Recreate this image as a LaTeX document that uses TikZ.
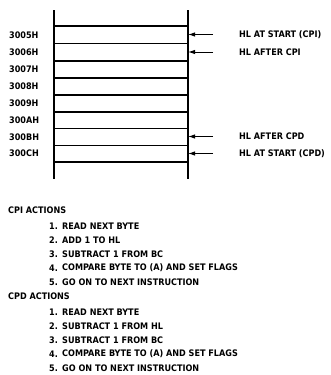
\documentclass[tikz,border=0pt]{standalone}
\usepackage{fontspec}
\setmainfont{DejaVu Sans Condensed}
\usetikzlibrary{arrows.meta}
\begin{document}
\begin{tikzpicture}[x=1pt,y=-1pt,
  txt/.style={font=\fontsize{9}{10}\selectfont\bfseries, inner sep=0pt, anchor=west},
  mem/.style={line width=1.1pt},
  ptr/.style={line width=1pt, -{Latex[length=7pt,width=4.5pt]}}]
\useasboundingbox (0,0) rectangle (330,375);
% memory column
\coordinate (lt) at (54,10); \coordinate (lb) at (54,179);
\coordinate (rt) at (188,10); \coordinate (rb) at (188,179);
\draw[mem] (lt) -- (lb);
\draw[mem] (rt) -- (rb);
\foreach \y in {26,43.5,61,78,95,112,128.5,145.5,162}
  \draw[mem] (54,\y) -- (188,\y);
% addresses
\foreach \a/\y in {3005H/35,3006H/52,3007H/69.5,3008H/86.5,3009H/103.5,300AH/120,300BH/137,300CH/153.5}
  \node[txt] (a\a) at (9,\y) {\a};
% pointers
\coordinate (p1) at (188,34.5); \coordinate (q1) at (213,34.5);
\coordinate (p2) at (188,52); \coordinate (q2) at (213,52);
\coordinate (p3) at (188,136.5); \coordinate (q3) at (213,136.5);
\coordinate (p4) at (188,153.5); \coordinate (q4) at (213,153.5);
\node[txt] (l1) at (239,34.5) {HL AT START (CPI)};
\node[txt] (l2) at (239,52) {HL AFTER CPI};
\node[txt] (l3) at (239,136.5) {HL AFTER CPD};
\node[txt] (l4) at (239,153.5) {HL AT START (CPD)};
\draw[ptr] (q1) -- (p1);
\draw[ptr] (q2) -- (p2);
\draw[ptr] (q3) -- (p3);
\draw[ptr] (q4) -- (p4);
% action lists
\node[txt] (cpi) at (8,210) {CPI ACTIONS};
\foreach \n/\t/\y in {1/READ NEXT BYTE/226,2/ADD 1 TO HL/240,3/SUBTRACT 1 FROM BC/254,4/COMPARE BYTE TO (A) AND SET FLAGS/268,5/GO ON TO NEXT INSTRUCTION/282}{
  \node[txt] (ni\n) at (49,\y) {\n.};
  \node[txt] (ti\n) at (62,\y) {\t};
}
\node[txt] (cpd) at (8,296) {CPD ACTIONS};
\foreach \n/\t/\y in {1/READ NEXT BYTE/312,2/SUBTRACT 1 FROM HL/326,3/SUBTRACT 1 FROM BC/340,4/COMPARE BYTE TO (A) AND SET FLAGS/354,5/GO ON TO NEXT INSTRUCTION/368}{
  \node[txt] (nd\n) at (49,\y) {\n.};
  \node[txt] (td\n) at (62,\y) {\t};
}
\end{tikzpicture}
\end{document}
